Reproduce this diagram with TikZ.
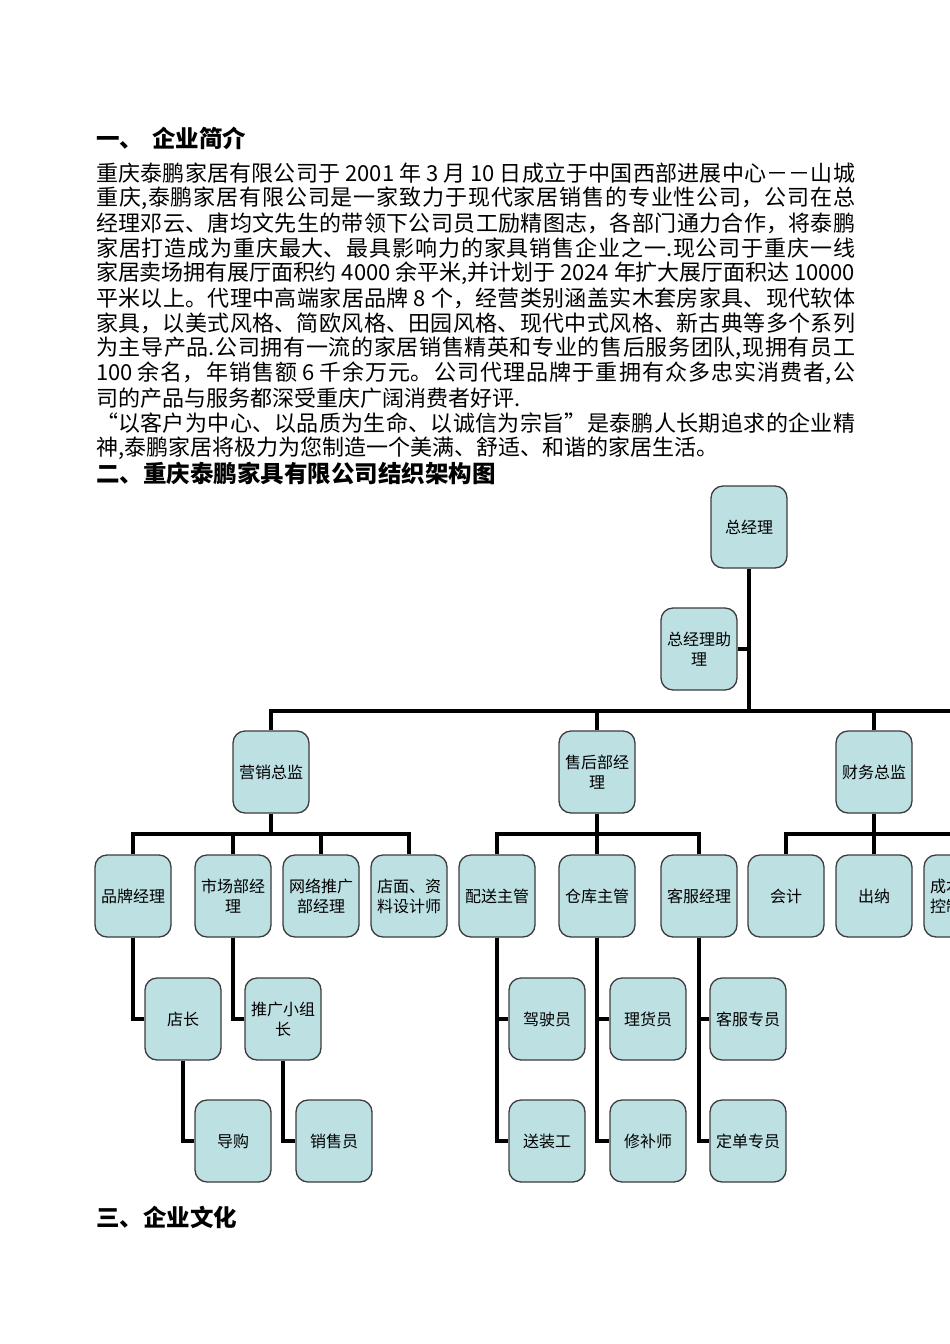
\documentclass[tikz,border=0pt]{standalone}
\usepackage{fontspec}
\setmainfont{Noto Sans CJK SC}
\XeTeXlinebreaklocale "zh"
\XeTeXlinebreakskip=0pt plus 1.5pt minus 0.6pt
\definecolor{boxfill}{RGB}{189,224,227}
\definecolor{boxline}{RGB}{60,60,60}
\newcommand{\jline}[1]{\parbox{759pt}{\tolerance=9999\hbadness=10000\parfillskip=0pt\relax #1}}
\newcommand{\wsp}{\hspace{5pt}}

\begin{document}
\begin{tikzpicture}[x=1pt,y=-1pt,
  box/.style={draw=boxline,line width=1.3pt,fill=boxfill,rounded corners=12pt,
    minimum width=76pt,minimum height=82pt,inner sep=1pt,align=center,
    font=\fontsize{16}{20}\selectfont},
  link/.style={line width=3.6pt},
  txtline/.style={anchor=west,inner sep=0pt,font=\fontsize{22}{25}\selectfont},
  head/.style={anchor=west,inner sep=0pt,font=\fontsize{23.5}{26}\selectfont\bfseries}]
  \useasboundingbox (0,0) rectangle (950,1344);
  \clip (0,0) rectangle (950,1344);
  \fill[white] (0,0) rectangle (950,1344);

  % text
  \node[head] (h1) at (96,138) {一、\hspace{9pt}企业简介};
  \node[txtline] (t1) at (96,173) {\jline{重庆泰鹏家居有限公司于\wsp{}2001\wsp{}年\wsp{}3\wsp{}月\wsp{}10\wsp{}日成立于中国西部进展中心－－山城}};
  \node[txtline] (t2) at (96,198) {\jline{重庆,泰鹏家居有限公司是一家致力于现代家居销售的专业性公司，公司在总}};
  \node[txtline] (t3) at (96,223) {\jline{经理邓云、唐均文先生的带领下公司员工励精图志，各部门通力合作，将泰鹏}};
  \node[txtline] (t4) at (96,248) {\jline{家居打造成为重庆最大、最具影响力的家具销售企业之一.现公司于重庆一线}};
  \node[txtline] (t5) at (96,273) {\jline{家居卖场拥有展厅面积约\wsp{}4000\wsp{}余平米,并计划于\wsp{}2024\wsp{}年扩大展厅面积达\wsp{}10000}};
  \node[txtline] (t6) at (96,298) {\jline{平米以上。代理中高端家居品牌\wsp{}8\wsp{}个，经营类别涵盖实木套房家具、现代软体}};
  \node[txtline] (t7) at (96,323) {\jline{家具，以美式风格、简欧风格、田园风格、现代中式风格、新古典等多个系列}};
  \node[txtline] (t8) at (96,348) {\jline{为主导产品.公司拥有一流的家居销售精英和专业的售后服务团队,现拥有员工}};
  \node[txtline] (t9) at (96,373) {\jline{100\wsp{}余名，年销售额\wsp{}6\wsp{}千余万元。公司代理品牌于重拥有众多忠实消费者,公}};
  \node[txtline] (t10) at (96,398) {司的产品与服务都深受重庆广阔消费者好评.};
  \node[txtline] (t11) at (96,423) {\jline{“以客户为中心、以品质为生命、以诚信为宗旨”是泰鹏人长期追求的企业精}};
  \node[txtline] (t12) at (96,448) {神,泰鹏家居将极力为您制造一个美满、舒适、和谐的家居生活。};
  \node[head] (h2) at (96,473) {二、重庆泰鹏家具有限公司结织架构图};
  \node[head] (h3) at (96,1217) {三、企业文化};

  % chart
  \node[box] (zjl) at (749,527) {总经理};
  \node[box] (zjlzl) at (699,649) {总经理助\\理};

  \node[box] (yxzj) at (271,772) {营销总监};
  \node[box] (shbjl) at (597,772) {售后部经\\理};
  \node[box] (cwzj) at (874,772) {财务总监};

  \node[box] (ppjl) at (133,896) {品牌经理};
  \node[box] (scbjl) at (233,896) {市场部经\\理};
  \node[box] (wltg) at (321,896) {网络推广\\部经理};
  \node[box] (dmsj) at (409,896) {店面、资\\料设计师};
  \node[box] (pszg) at (497,896) {配送主管};
  \node[box] (ckzg) at (597,896) {仓库主管};
  \node[box] (kfjl) at (699,896) {客服经理};
  \node[box] (kj) at (786,896) {会计};
  \node[box] (cn) at (874,896) {出纳};
  \node[box] (cbkz) at (962,896) {成本核算\\控制主管};

  \node[box] (dz) at (183,1019) {店长};
  \node[box] (tgxz) at (283,1019) {推广小组\\长};
  \node[box] (jsy) at (547,1019) {驾驶员};
  \node[box] (lhy) at (648,1019) {理货员};
  \node[box] (kfzy) at (748,1019) {客服专员};

  \node[box] (dg) at (233,1141) {导购};
  \node[box] (xsy) at (334,1141) {销售员};
  \node[box] (szg) at (547,1141) {送装工};
  \node[box] (xbs) at (648,1141) {修补师};
  \node[box] (ddzy) at (748,1141) {定单专员};

  \coordinate (bus1) at (749,711);
  \coordinate (bus1r) at (960,711);
  \coordinate (bus2) at (271,834);
  \coordinate (bus3) at (597,834);
  \coordinate (bus4) at (874,834);

  \draw[link] (zjl) -- (bus1);
  \draw[link] (zjlzl) -- (zjlzl -| bus1);
  \draw[link] (yxzj) |- (bus1) -- (bus1r);
  \draw[link] (shbjl) -- (shbjl |- bus1);
  \draw[link] (cwzj) -- (cwzj |- bus1);

  \draw[link] (yxzj) -- (bus2);
  \draw[link] (bus2) -| (ppjl);
  \draw[link] (bus2) -| (scbjl);
  \draw[link] (bus2) -| (wltg);
  \draw[link] (bus2) -| (dmsj);

  \draw[link] (shbjl) -- (bus3);
  \draw[link] (bus3) -| (pszg);
  \draw[link] (bus3) -- (ckzg);
  \draw[link] (bus3) -| (kfjl);

  \draw[link] (cwzj) -- (bus4);
  \draw[link] (bus4) -| (kj);
  \draw[link] (bus4) -- (cn);
  \draw[link] (bus4) -| (cbkz);

  \draw[link] (ppjl) |- (dz);
  \draw[link] (dz) |- (dg);
  \draw[link] (scbjl) |- (tgxz);
  \draw[link] (tgxz) |- (xsy);
  \draw[link] (pszg) |- (jsy);
  \draw[link] (pszg) |- (szg);
  \draw[link] (ckzg) |- (lhy);
  \draw[link] (ckzg) |- (xbs);
  \draw[link] (kfjl) |- (kfzy);
  \draw[link] (kfjl) |- (ddzy);
\end{tikzpicture}
\end{document}
